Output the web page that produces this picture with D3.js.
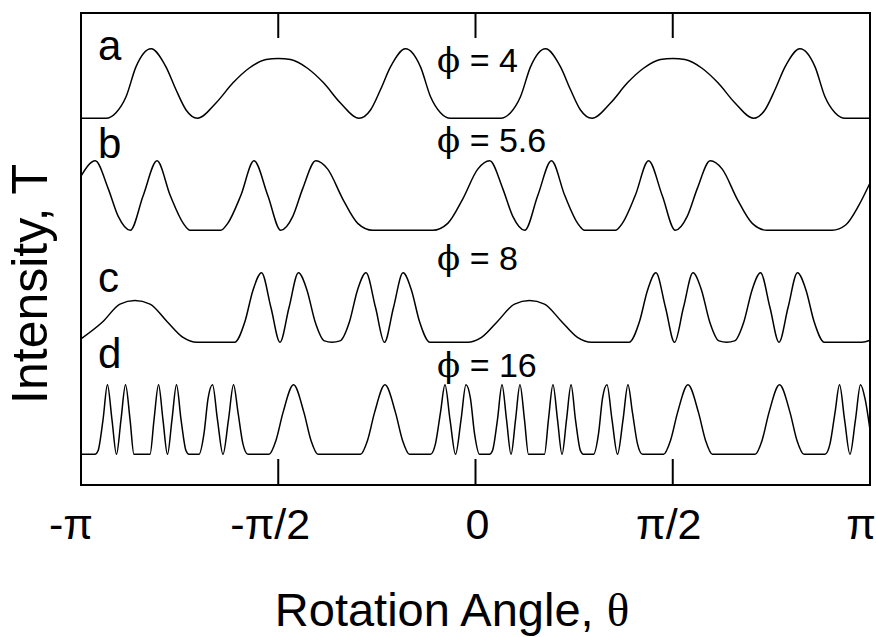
<!DOCTYPE html>
<html><head><meta charset="utf-8">
<script src="https://cdn.jsdelivr.net/npm/d3@7"></script>
<style>body{margin:0;background:#fff}svg{display:block}</style>
</head><body>
<script>
const PI = Math.PI;
// ---- data ----
const tickValues = [-PI, -PI/2, 0, PI/2, PI];
const tickLabels = ["-π", "-π/2", "0", "π/2", "π"];
const frameTicks = [-PI/2, 0, PI/2];
const curveNames = ["a", "b", "c", "d"];
const phiLabels = ["4", "5.6", "8", "16"];

const curveA = [[-3.1416,0],[-2.943,0],[-2.863,0.08],[-2.783,0.31],[-2.704,0.74],[-2.584,1],[-2.465,0.74],[-2.385,0.41],[-2.305,0.12],[-2.214,0],[-2.067,0.22],[-1.931,0.51],[-1.804,0.72],[-1.668,0.845],[-1.571,0.86],
[-1.473,0.845],[-1.338,0.72],[-1.210,0.51],[-1.075,0.22],[-0.928,0],[-0.836,0.12],[-0.757,0.41],[-0.677,0.74],[-0.557,1],[-0.438,0.74],[-0.358,0.31],[-0.279,0.08],[-0.199,0],[0,0],
[0.199,0],[0.279,0.08],[0.358,0.31],[0.438,0.74],[0.557,1],[0.677,0.74],[0.757,0.41],[0.836,0.12],[0.928,0],[1.075,0.22],[1.210,0.51],[1.338,0.72],[1.473,0.845],[1.571,0.86],
[1.668,0.845],[1.804,0.72],[1.931,0.51],[2.067,0.22],[2.214,0],[2.305,0.12],[2.385,0.41],[2.465,0.74],[2.584,1],[2.704,0.74],[2.783,0.31],[2.863,0.08],[2.943,0],[3.1416,0]];

const curveB = [[-3.1416,0.78],[-3.028,1],[-2.925,0.6],[-2.845,0.2],[-2.749,0],[-2.646,0.5],[-2.536,1],[-2.431,0.5],[-2.327,0.1],[-2.272,0],[-2.150,0],[-2.029,0],[-1.973,0.1],[-1.869,0.5],[-1.764,1],[-1.654,0.5],[-1.551,0],[-1.455,0.2],[-1.376,0.6],[-1.272,1],[-1.177,0.88],[-1.057,0.45],[-0.938,0.1],[-0.818,0],[-0.579,0],[-0.340,0],[-0.221,0.1],[-0.102,0.45],[0.018,0.88],[0.113,1],[0.217,0.6],[0.297,0.2],[0.392,0],[0.496,0.5],[0.605,1],[0.711,0.5],[0.814,0.1],[0.870,0],[0.991,0],[1.113,0],[1.169,0.1],[1.272,0.5],[1.378,1],[1.487,0.5],[1.591,0],[1.686,0.2],[1.766,0.6],[1.869,1],[1.965,0.88],[2.084,0.45],[2.204,0.1],[2.323,0],[2.562,0],[2.840,0],[2.950,0.08],[3.050,0.35],[3.1416,0.68]];

const curveC = [[-3.1416,0.05],[-2.966,0.3],[-2.831,0.55],[-2.712,0.6],[-2.592,0.55],[-2.457,0.3],[-2.329,0.07],[-2.218,0],[-1.919,0],[-1.836,0.3],[-1.772,0.75],[-1.704,1],[-1.629,0.5],[-1.557,0],[-1.485,0.5],[-1.410,1],[-1.342,0.75],[-1.278,0.3],[-1.203,0.02],[-1.143,0],[-1.079,0.02],[-1.003,0.3],[-0.940,0.75],[-0.872,1],[-0.796,0.5],[-0.725,0],[-0.653,0.5],[-0.577,1],[-0.510,0.75],[-0.446,0.3],[-0.362,0],[-0.064,0],[0.048,0.07],[0.175,0.3],[0.311,0.55],[0.430,0.6],[0.549,0.55],[0.685,0.3],[0.812,0.07],[0.924,0],[1.222,0],[1.306,0.3],[1.370,0.75],[1.437,1],[1.513,0.5],[1.585,0],[1.656,0.5],[1.732,1],[1.800,0.75],[1.864,0.3],[1.939,0.02],[2.001,0],[2.063,0.02],[2.138,0.3],[2.202,0.75],[2.270,1],[2.345,0.5],[2.417,0],[2.489,0.5],[2.564,1],[2.632,0.75],[2.696,0.3],[2.779,0],[3.078,0],[3.1416,0.03]];

const curveD = [[-3.1416,0],[-3.030,0],[-3.006,0.05],[-2.966,0.5],[-2.931,1],[-2.895,0.5],[-2.859,0],[-2.823,0.5],[-2.787,1],[-2.751,0.5],[-2.720,0],[-2.592,0],[-2.560,0.5],[-2.524,1],[-2.489,0.5],[-2.453,0],[-2.417,0.5],[-2.381,1],[-2.345,0.5],[-2.305,0.05],[-2.282,0],[-2.202,0],[-2.162,0.3],[-2.130,0.8],[-2.094,1],[-2.055,0.5],[-2.011,0],[-1.967,0.5],[-1.927,1],[-1.891,0.6],[-1.852,0.15],[-1.812,0],[-1.645,0],[-1.589,0.2],[-1.533,0.6],[-1.449,1],[-1.366,0.6],[-1.310,0.2],[-1.254,0],[-1.083,0],[-0.916,0],[-0.860,0.2],[-0.804,0.6],[-0.721,1],[-0.637,0.6],[-0.581,0.2],[-0.526,0],[-0.358,0],[-0.319,0.15],[-0.279,0.6],[-0.243,1],[-0.203,0.5],[-0.159,0],[-0.115,0.5],[-0.076,1],[-0.040,0.8],[-0.008,0.3],[0.032,0],[0.111,0],[0.135,0.05],[0.175,0.5],[0.211,1],[0.247,0.5],[0.283,0],[0.319,0.5],[0.354,1],[0.390,0.5],[0.422,0],[0.549,0],[0.581,0.5],[0.617,1],[0.653,0.5],[0.689,0],[0.725,0.5],[0.761,1],[0.796,0.5],[0.836,0.05],[0.860,0],[0.940,0],[0.980,0.3],[1.011,0.8],[1.047,1],[1.087,0.5],[1.131,0],[1.175,0.5],[1.214,1],[1.250,0.6],[1.290,0.15],[1.330,0],[1.497,0],[1.553,0.2],[1.609,0.6],[1.692,1],[1.776,0.6],[1.832,0.2],[1.887,0],[2.059,0],[2.226,0],[2.282,0.2],[2.337,0.6],[2.421,1],[2.505,0.6],[2.560,0.2],[2.616,0],[2.783,0],[2.823,0.15],[2.863,0.6],[2.899,1],[2.939,0.5],[2.982,0],[3.026,0.5],[3.066,1],[3.102,0.8],[3.1416,0.35]];

const series = [curveA, curveB, curveC, curveD];

// ---- layout ----
const W = 876, H = 637;
const pL = 81, pR = 870, pT = 13, pB = 485;
const labelDx = [-10, -8, 2, -4, -9];
const letterY = [60, 158, 292, 368];
const phiY = [72, 152, 270, 377];
const svg = d3.select("body").append("svg").attr("width", W).attr("height", H);
const sans = "'Liberation Sans', Arial, Helvetica, sans-serif";
const serif = "'DejaVu Serif', 'Liberation Serif', serif";

const x = d3.scaleLinear().domain([-PI, PI]).range([pL, pR]);
const base = d3.scalePoint().domain(curveNames).range([118.3, 454.3]);
const yT = d3.scaleLinear().domain([0, 1]).range([0, -69.5]);

// curves
series.forEach((s, i) => {
  const b0 = base(curveNames[i]);
  const line = d3.line().x(d => x(d[0])).y(d => b0 + yT(d[1])).curve(d3.curveMonotoneX);
  svg.append("path").datum(s)
    .attr("d", line)
    .attr("fill", "none").attr("stroke", "#000").attr("stroke-width", 1.5)
    .attr("stroke-linejoin", "round");
});

// frame
svg.append("rect").attr("x", pL).attr("y", pT).attr("width", pR - pL).attr("height", pB - pT)
  .attr("fill", "none").attr("stroke", "#000").attr("stroke-width", 2);

// inner ticks top and bottom
svg.selectAll(".tt").data(frameTicks).enter().append("line")
  .attr("x1", d => x(d)).attr("x2", d => x(d)).attr("y1", pT).attr("y2", pT + 25)
  .attr("stroke", "#000").attr("stroke-width", 2);
svg.selectAll(".bt").data(frameTicks).enter().append("line")
  .attr("x1", d => x(d)).attr("x2", d => x(d)).attr("y1", pB).attr("y2", pB - 26)
  .attr("stroke", "#000").attr("stroke-width", 2);

// tick labels
svg.selectAll(".tl").data(tickValues).enter().append("text")
  .attr("x", d => x(d)).attr("dx", (d, i) => labelDx[i]).attr("y", 539)
  .attr("text-anchor", "middle").attr("font-family", sans).attr("font-size", 43)
  .text((d, i) => tickLabels[i]);

// axis titles
const xt = svg.append("text").attr("x", 452).attr("y", 626).attr("text-anchor", "middle")
  .attr("font-family", sans).attr("font-size", 47);
xt.append("tspan").text("Rotation Angle, ");
xt.append("tspan").attr("font-family", "'Liberation Serif', serif").text("θ");

svg.append("text").attr("transform", "translate(47,284) rotate(-90)")
  .attr("text-anchor", "middle").attr("font-family", sans).attr("font-size", 50)
  .text("Intensity, T");

// curve letters
curveNames.forEach((n, i) => {
  svg.append("text").attr("x", 98).attr("y", letterY[i])
    .attr("font-family", sans).attr("font-size", 42).text(n);
});

// phi labels
phiLabels.forEach((p, i) => {
  const t = svg.append("text").attr("x", 437).attr("y", phiY[i])
    .attr("font-family", sans).attr("font-size", 34);
  t.append("tspan").attr("font-family", serif).attr("font-size", 34).text("ϕ");
  t.append("tspan").text(" = " + p);
});
</script>
</body></html>
